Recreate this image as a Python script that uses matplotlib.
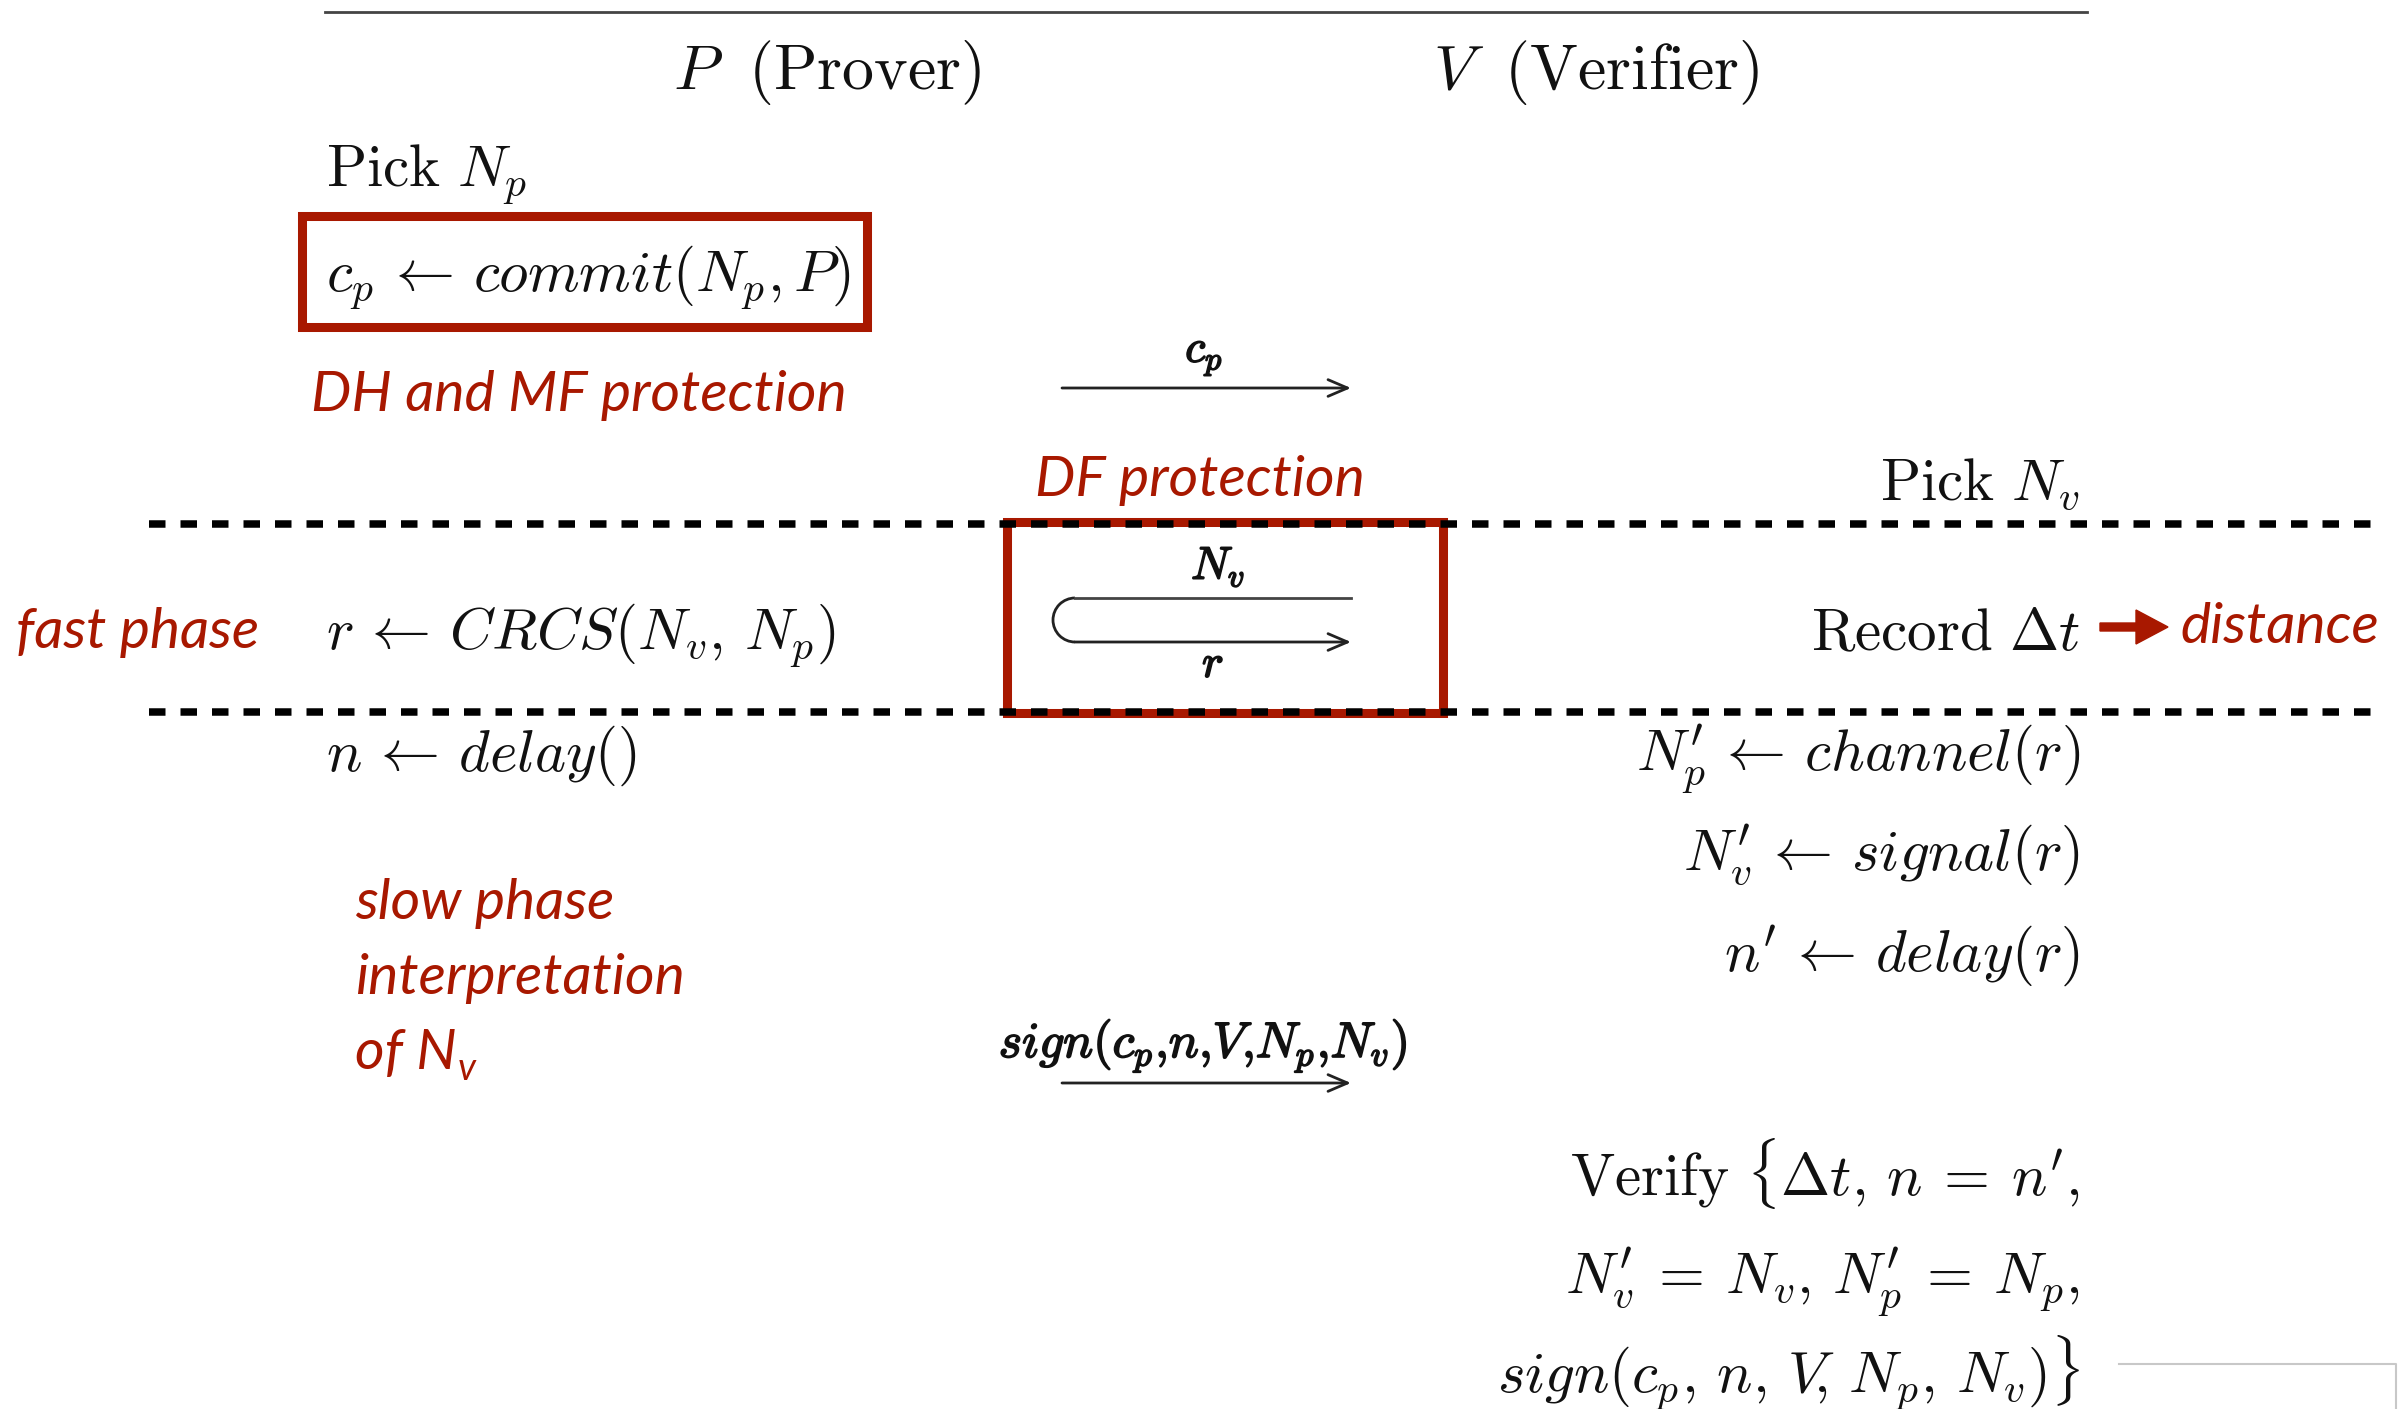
import matplotlib
matplotlib.use("Agg")
import matplotlib.pyplot as plt
import matplotlib.patheffects as pe
from matplotlib.patches import Rectangle, Arc

plt.rcParams['mathtext.fontset'] = 'cm'

# protocol content
header = [r'$P\;\ (\mathrm{Prover})$', r'$V\;\ (\mathrm{Verifier})$']
prover_steps = [r'$\mathrm{Pick}\ N_p$',
                r'$c_p \,\leftarrow\, commit(N_p, P)$',
                r'$r \,\leftarrow\, CRCS(N_v,\, N_p)$',
                r'$n \,\leftarrow\, delay()$']
verifier_steps = [r'$\mathrm{Pick}\ N_v$',
                  r'$\mathrm{Record}\ \Delta t$',
                  r'$N_p^{\prime} \,\leftarrow\, channel(r)$',
                  r'$N_v^{\prime} \,\leftarrow\, signal(r)$',
                  r'$n^{\prime} \,\leftarrow\, delay(r)$']
verify_lines = [r'$\mathrm{Verify}\ \{\Delta t,\, n \:=\: n^{\prime},$',
                r'$N_v^{\prime} \:=\: N_v,\, N_p^{\prime} \:=\: N_p,$',
                r'$sign(c_p,\, n,\, V\!,\, N_p,\, N_v)\}$']
messages = [r'$c_p$', r'$N_v$', r'$r$', r'$sign(c_p{,}n{,}V{,}N_p{,}N_v)$']
notes_top = ['DH and MF protection', 'DF protection']
fast_note = 'fast phase'
dist_note = 'distance'
slow_note = ['slow phase', 'interpretation', 'of N']

red = '#a81800'
ink = '#111111'
body = 42.5
small = 33
redsz = 41
redfont = dict(family='Lato', style='italic', color=red, fontsize=redsz)
bold = [pe.withStroke(linewidth=1.2, foreground=ink)]

fig = plt.figure(figsize=(24.02, 14.09), dpi=100)
ax = fig.add_axes([0, 0, 1, 1])
ax.set_xlim(0, 2402)
ax.set_ylim(1409, 0)
ax.axis('off')

# top rule
ax.plot([325, 2087], [12, 12], color='#444444', lw=2.0)

# header
ax.text(827, 89, header[0], ha='center', va='baseline', fontsize=46, color=ink)
ax.text(1596, 89, header[1], ha='center', va='baseline', fontsize=46, color=ink)

# prover column
ax.text(326, 187, prover_steps[0], ha='left', va='baseline', fontsize=body, color=ink)
ax.text(326, 292, prover_steps[1], ha='left', va='baseline', fontsize=body, color=ink)
ax.text(326, 650, prover_steps[2], ha='left', va='baseline', fontsize=body, color=ink)
ax.text(326, 771, prover_steps[3], ha='left', va='baseline', fontsize=body, color=ink)

# verifier column
ax.text(2080, 500, verifier_steps[0], ha='right', va='baseline', fontsize=body, color=ink)
ax.text(2080, 650, verifier_steps[1], ha='right', va='baseline', fontsize=body, color=ink)
ax.text(2080, 771, verifier_steps[2], ha='right', va='baseline', fontsize=body, color=ink)
ax.text(2080, 870, verifier_steps[3], ha='right', va='baseline', fontsize=body, color=ink)
ax.text(2080, 971, verifier_steps[4], ha='right', va='baseline', fontsize=body, color=ink)
for i, s in enumerate(verify_lines):
    ax.text(2080, 1195 + 99 * i, s, ha='right', va='baseline', fontsize=body, color=ink)

# messages
arrow_kw = dict(arrowstyle='->,head_length=0.7,head_width=0.3', lw=2.0,
                color='#222222', mutation_scale=20, shrinkA=0, shrinkB=0)
ax.text(1204, 362, messages[0], ha='center', va='baseline', fontsize=small,
        color=ink, path_effects=bold)
ax.annotate('', xy=(1351, 388), xytext=(1062, 388), arrowprops=arrow_kw)

ax.text(1218, 579, messages[1], ha='center', va='baseline', fontsize=small,
        color=ink, path_effects=bold)
ax.plot([1075, 1351], [598, 598], color='#444444', lw=2.0)
ax.add_patch(Arc((1075, 620), 44, 44, theta1=90, theta2=270, color='#222222', lw=2.0))
ax.annotate('', xy=(1351, 642), xytext=(1075, 642), arrowprops=arrow_kw)
ax.text(1213, 677, messages[2], ha='center', va='baseline', fontsize=small,
        color=ink, path_effects=bold)

ax.text(1203, 1057, messages[3], ha='center', va='baseline', fontsize=36,
        color=ink, path_effects=bold)
ax.annotate('', xy=(1351, 1083), xytext=(1062, 1083), arrowprops=arrow_kw)

# red annotations
ax.add_patch(Rectangle((301.5, 215.5), 565, 111, fill=False, ec=red, lw=6.5))
ax.add_patch(Rectangle((1006.5, 521.5), 436, 191, fill=False, ec=red, lw=6.5))
ax.text(311, 411, notes_top[0], ha='left', va='baseline', **redfont)
ax.text(1200, 496, notes_top[1], ha='center', va='baseline', **redfont)
ax.text(16, 648, fast_note, ha='left', va='baseline', **redfont)
ax.text(2180, 643, dist_note, ha='left', va='baseline', **redfont)
ax.arrow(2100, 627, 68, 0, width=8, head_width=34, head_length=32,
         length_includes_head=True, color=red)
for i, s in enumerate(slow_note):
    t = ax.text(355, 919 + 75 * i, s, ha='left', va='baseline', **redfont)
fig.canvas.draw()
bb = t.get_window_extent(fig.canvas.get_renderer())
ax.text(bb.x1 + 1, 1080, 'v', ha='left', va='baseline',
        family='Lato', style='italic', color=red, fontsize=27)

# phase separators
for y in [524, 712]:
    ax.plot([149, 2378], [y, y], color='black', lw=5.4, ls=(0, (2.2, 2.0)),
            solid_capstyle='butt', dash_capstyle='butt')

# bottom corner line
ax.plot([2119, 2396, 2396], [1364, 1364, 1409], color='#c8c8c8', lw=1.5)

fig.savefig('out.png', dpi=100)
